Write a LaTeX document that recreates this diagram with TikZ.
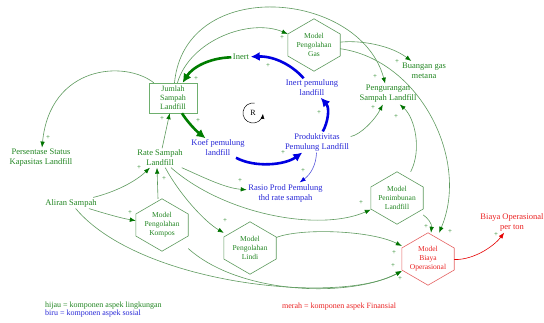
\documentclass[tikz,border=0pt]{standalone}
\usepackage{fontspec}
\setmainfont{Liberation Serif}
\usetikzlibrary{arrows.meta,calc}
\definecolor{gtext}{RGB}{34,134,34}
\definecolor{gline}{RGB}{95,155,95}
\definecolor{gbox}{RGB}{110,175,110}
\definecolor{gdark}{RGB}{0,115,0}
\definecolor{gthick}{RGB}{0,125,0}
\definecolor{btext}{RGB}{40,40,215}
\definecolor{bthick}{RGB}{0,0,225}
\definecolor{bline}{RGB}{90,90,220}
\definecolor{rtext}{RGB}{235,35,35}
\definecolor{rline}{RGB}{230,100,100}
\definecolor{rdark}{RGB}{230,0,0}
\tikzset{
  lbl/.style={align=center, inner sep=1.5pt, font=\fontsize{8.5}{10}\selectfont},
  gl/.style={lbl, text=gtext},
  bl/.style={lbl, text=btext},
  rl/.style={lbl, text=rtext},
  hexbox/.style={minimum width=52pt, minimum height=52pt, inner sep=0pt, align=center, font=\fontsize{7.5}{9}\selectfont},
  conn/.style={draw=gline, line width=0.6pt, -{Latex[length=6pt,width=4.5pt,color=gdark]}},
  bconn/.style={draw=bline, line width=0.6pt, -{Latex[length=6pt,width=4.5pt,color=bthick]}},
  rconn/.style={draw=rdark, line width=0.6pt, -{Latex[length=6pt,width=4.5pt,color=rdark]}},
  gthk/.style={draw=gthick, line width=2.6pt, -{Latex[length=9pt,width=9pt]}},
  bthk/.style={draw=bthick, line width=2.6pt, -{Latex[length=9pt,width=9pt]}},
  pl/.style={text=gtext, inner sep=0pt, font=\fontsize{7}{7}\selectfont},
  legend/.style={anchor=west, inner sep=0pt, font=\fontsize{8}{9}\selectfont},
  stockbox/.style={gl, minimum width=48pt, minimum height=30pt, inner sep=0pt, font=\fontsize{8}{9}\selectfont}
}
\begin{document}
\begin{tikzpicture}[x=1pt,y=-1pt]
\fill[white] (0,0) rectangle (544,322);
\useasboundingbox (0,0) rectangle (544,322);

% nodes
\node[stockbox] (jumlah) at (173,98) {Jumlah\\Sampah\\Landfill};
\draw[draw=gbox, line width=0.5pt] (jumlah.north west) rectangle (jumlah.south east);
\node[gl] (inert) at (241,57) {Inert};
\node[hexbox, text=gtext] (gas) at (314,45) {Model\\Pengolahan\\Gas};
\node[gl] (buangan) at (424,70.5) {Buangan gas\\metana};
\node[gl] (kurang) at (388,94) {Pengurangan\\Sampah Landfill};
\node[bl] (inertpem) at (312,88) {Inert pemulung\\landfill};
\node[bl] (koef) at (218,148) {Koef pemulung\\landfill};
\node[bl] (prod) at (317,142) {Produktivitas\\Pemulung Landfill};
\node[gl] (persen) at (41,158) {Persentase Status\\Kapasitas Landfill};
\node[gl] (rate) at (160,158) {Rate Sampah\\Landfill};
\node[bl] (rasio) at (285.5,193) {Rasio Prod Pemulung\\thd rate sampah};
\node[gl] (aliran) at (71,203) {Aliran Sampah};
\node[hexbox, text=gtext] (kompos) at (162,225) {Model\\Pengolahan\\Kompos};
\node[hexbox, text=gtext] (lindi) at (250,248) {Model\\Pengolahan\\Lindi};
\node[hexbox, text=gtext] (timbun) at (397,198) {Model\\Penimbunan\\Landfill};
\node[hexbox, text=rtext] (biaya) at (428,259) {Model\\Biaya\\Operasional};
\node[rl] (perton) at (512,222) {Biaya Operasional\\per ton};
\node[inner sep=0pt, font=\fontsize{8}{9}\selectfont] (R) at (253,113) {R};

% hexagon outlines
\foreach \h/\c in {gas/gline, kompos/gline, lindi/gline, timbun/gline, biaya/rline}
  \draw[\c, line width=0.6pt] (\h.north) -- ($(\h.east)+(0,-11)$) -- ($(\h.east)+(0,11)$) -- (\h.south) -- ($(\h.west)+(0,11)$) -- ($(\h.west)+(0,-11)$) -- cycle;

% loop symbol
\draw[line width=0.5pt, -{Latex[length=5pt,width=4pt]}] ($(R)+(1.7,-9.85)$) arc[start angle=80, end angle=355, radius=10pt];

% thick loop arrows
\draw[gthk] (inert) .. controls (208,58) and (192,68) .. (jumlah);
\draw[gthk] (jumlah) .. controls (186,120) and (195,130) .. (koef);
\draw[bthk] (koef) .. controls (255,168) and (285,165) .. (prod);
\draw[bthk] (prod) .. controls (328,122) and (330,108) .. (inertpem);
\draw[bthk] (inertpem) .. controls (293,66) and (275,56) .. (inert);

% thin connectors
\draw[conn] (jumlah) .. controls (125,60) and (50,65) .. (persen);
\draw[conn] (rate) -- (jumlah);
\draw[conn] (jumlah) .. controls (190,40) and (250,18) .. (gas);
\draw[conn] (jumlah) .. controls (185,-25) and (360,-10) .. (kurang);
\draw[conn] (gas) .. controls (360,40) and (390,45) .. (buangan);
\draw[conn] (gas) .. controls (420,60) and (470,160) .. (biaya);
\draw[conn] (prod) .. controls (360,135) and (375,120) .. (kurang);
\draw[conn] (timbun) .. controls (422,150) and (415,118) .. (kurang);
\draw[bconn] (prod) .. controls (316,165) and (311,174) .. (rasio);
\draw[conn] (rate) .. controls (205,178) and (225,188) .. (rasio);
\draw[conn] (rate) .. controls (180,195) and (205,222) .. (lindi);
\draw[conn] (rate) .. controls (225,215) and (320,232) .. (timbun);
\draw[conn] (lindi) .. controls (300,228) and (370,230) .. (biaya);
\draw[conn] (kompos) .. controls (240,295) and (350,298) .. ($(biaya.west)+(0,12)$);
\draw[conn] (aliran) .. controls (140,285) and (340,305) .. ($(biaya.west)+(0,12)$);
\draw[conn] (timbun) .. controls (428,218) and (432,224) .. (biaya);
\draw[conn] (aliran) .. controls (115,192) and (135,182) .. (rate);
\draw[conn] (aliran) .. controls (100,212) and (120,218) .. (kompos);
\draw[conn] ($(kompos.north)+(-4,0)$) -- ($(rate.south)+(-3,0)$);
\draw[rconn] (biaya) .. controls (475,260) and (495,245) .. (perton);

% polarity signs
\node[pl] (p1) at (48,138) {+};
\node[pl] (p2) at (162,119) {+};
\node[pl] (p3) at (196,79) {+};
\node[pl] (p4) at (198,121) {+};
\node[pl] (p5) at (283,153) {+};
\node[pl] (p6) at (319,113) {+};
\node[pl] (p7) at (268,66) {+};
\node[pl] (p8) at (282,38) {+};
\node[pl] (p9) at (375,77) {+};
\node[pl] (p10) at (397,62) {+};
\node[pl] (p11) at (373,108) {+};
\node[pl] (p12) at (396,117) {+};
\node[pl] (p13) at (303,171) {+};
\node[pl] (p14) at (240,181) {+};
\node[pl] (p15) at (225,221) {+};
\node[pl] (p16) at (361,203) {+};
\node[pl] (p17) at (139,168) {+};
\node[pl] (p18) at (164,179) {+};
\node[pl] (p19) at (130,213) {+};
\node[pl] (p20) at (394,253) {+};
\node[pl] (p21) at (393,266) {+};
\node[pl] (p22) at (400,279) {+};
\node[pl] (p23) at (426,227) {+};
\node[pl] (p24) at (450,232) {+};
\node[pl] (p25) at (496,235) {+};

% legend
\node[legend, text=gtext] (leg1) at (45,306) {hijau = komponen aspek lingkungan};
\node[legend, text=btext] (leg2) at (45,313.5) {biru = komponen aspek sosial};
\node[legend, text=rtext] (leg3) at (282,307) {merah = komponen aspek Finansial};
\end{tikzpicture}
\end{document}
